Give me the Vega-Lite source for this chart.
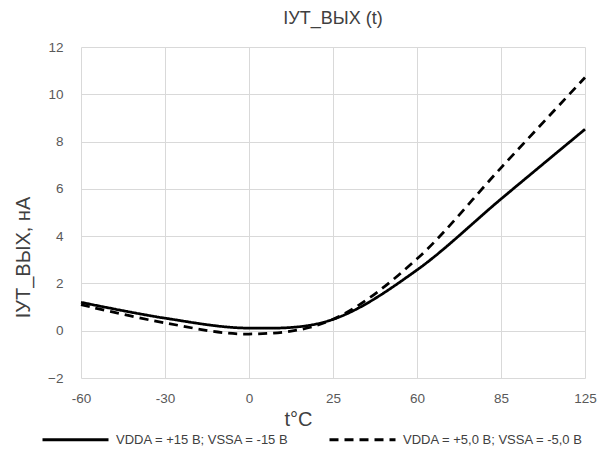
{
  "$schema": "https://vega.github.io/schema/vega-lite/v6.json",
  "autosize": "none",
  "width": 504,
  "height": 331,
  "padding": {"left": 81, "top": 47, "right": 23, "bottom": 77},
  "background": "white",
  "title": {
    "text": "IУТ_ВЫХ (t)",
    "fontSize": 18,
    "font": "Liberation Sans",
    "fontWeight": "normal",
    "color": "#404040",
    "anchor": "middle",
    "offset": 12
  },
  "data": {
    "values": [
      {"t": -60, "I": 1.20, "s": "VDDA = +15 В; VSSA = -15 В"},
      {"t": -30, "I": 0.53, "s": "VDDA = +15 В; VSSA = -15 В"},
      {"t": 0, "I": 0.11, "s": "VDDA = +15 В; VSSA = -15 В"},
      {"t": 25, "I": 0.48, "s": "VDDA = +15 В; VSSA = -15 В"},
      {"t": 60, "I": 2.57, "s": "VDDA = +15 В; VSSA = -15 В"},
      {"t": 85, "I": 5.57, "s": "VDDA = +15 В; VSSA = -15 В"},
      {"t": 125, "I": 8.52, "s": "VDDA = +15 В; VSSA = -15 В"},
      {"t": -60, "I": 1.10, "s": "VDDA = +5,0 В; VSSA = -5,0 В"},
      {"t": -30, "I": 0.33, "s": "VDDA = +5,0 В; VSSA = -5,0 В"},
      {"t": 0, "I": -0.14, "s": "VDDA = +5,0 В; VSSA = -5,0 В"},
      {"t": 25, "I": 0.48, "s": "VDDA = +5,0 В; VSSA = -5,0 В"},
      {"t": 60, "I": 3.04, "s": "VDDA = +5,0 В; VSSA = -5,0 В"},
      {"t": 85, "I": 6.89, "s": "VDDA = +5,0 В; VSSA = -5,0 В"},
      {"t": 125, "I": 10.71, "s": "VDDA = +5,0 В; VSSA = -5,0 В"}
    ]
  },
  "mark": {"type": "line", "interpolate": "cardinal", "strokeWidth": 2.75, "strokeCap": "butt"},
  "encoding": {
    "x": {
      "field": "t",
      "type": "ordinal",
      "sort": [-60, -30, 0, 25, 60, 85, 125],
      "scale": {"type": "point", "padding": 0},
      "axis": {
        "title": "t°C",
        "titleFontSize": 20,
        "titleFont": "Liberation Sans",
        "titleFontWeight": "normal",
        "titleColor": "#404040",
        "titleX": 217,
        "titlePadding": 5,
        "labelAngle": 0,
        "labelFont": "Liberation Sans",
        "labelFontSize": 13.5,
        "labelColor": "#595959",
        "labelPadding": 13,
        "ticks": false,
        "domain": false,
        "grid": true,
        "gridColor": "#d9d9d9",
        "gridWidth": 1
      }
    },
    "y": {
      "field": "I",
      "type": "quantitative",
      "scale": {"domain": [-2, 12], "nice": false, "zero": false},
      "axis": {
        "title": "IУТ_ВЫХ, нА",
        "titleFontSize": 20,
        "titleFont": "Liberation Sans",
        "titleFontWeight": "normal",
        "titleColor": "#404040",
        "titleAngle": -90,
        "titleX": -58,
        "titleY": 210,
        "titleAlign": "center",
        "titleBaseline": "middle",
        "values": [-2, 0, 2, 4, 6, 8, 10, 12],
        "labelFont": "Liberation Sans",
        "labelFontSize": 13.5,
        "labelColor": "#595959",
        "labelPadding": 18,
        "ticks": false,
        "domain": false,
        "grid": true,
        "gridColor": "#d9d9d9",
        "gridWidth": 1
      }
    },
    "color": {
      "field": "s",
      "type": "nominal",
      "scale": {"range": ["black", "black"]},
      "legend": null
    },
    "strokeDash": {
      "field": "s",
      "type": "nominal",
      "sort": ["VDDA = +15 В; VSSA = -15 В", "VDDA = +5,0 В; VSSA = -5,0 В"],
      "scale": {"domain": ["VDDA = +15 В; VSSA = -15 В", "VDDA = +5,0 В; VSSA = -5,0 В"], "range": [[1, 0], [9, 6]]},
      "legend": {
        "title": null,
        "orient": "none",
        "direction": "horizontal",
        "legendX": -40,
        "legendY": 358,
        "padding": 0,
        "symbolType": "stroke",
        "symbolSize": 4356,
        "symbolStrokeWidth": 3,
        "symbolStrokeColor": "black",
        "labelFont": "Liberation Sans",
        "labelFontSize": 13,
        "labelColor": "#404040",
        "labelOffset": 6,
        "columnPadding": 33,
        "labelLimit": 300
      }
    }
  },
  "config": {
    "view": {"stroke": null}
  }
}
